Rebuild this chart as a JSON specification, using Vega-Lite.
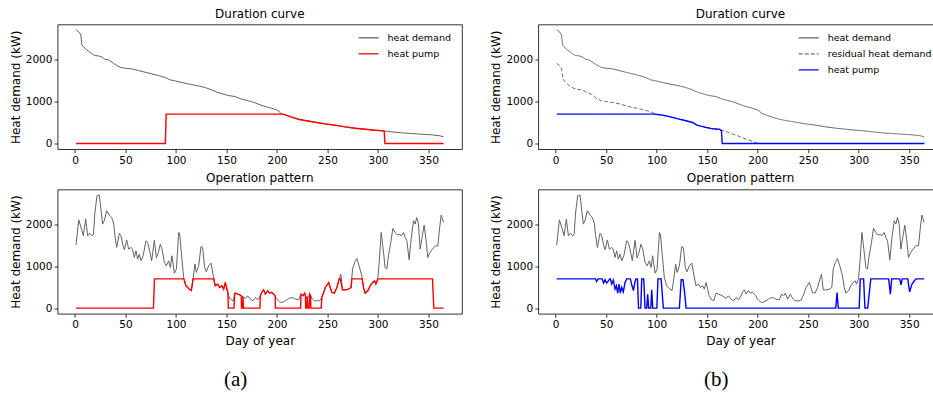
{
"$schema": "https://vega.github.io/schema/vega-lite/v6.json",
"background": "white",
"padding": {"left": 8.6, "top": 6.5, "right": 0, "bottom": 0},
"spacing": 26.7,
"resolve": {"scale": {"color": "independent", "strokeDash": "independent"}},
"config": {
  "font": "DejaVu Sans",
  "view": {"stroke": "#000", "strokeWidth": 0.8},
  "axis": {"grid": false, "domain": false, "tickColor": "#000", "tickWidth": 0.8, "tickSize": 3.5, "labelColor": "#000", "labelFont": "DejaVu Sans", "labelFontSize": 10.5, "titleFont": "DejaVu Sans", "titleFontSize": 12, "titleFontWeight": "normal", "titleColor": "#000", "labelFlush": false, "labelOverlap": false, "format": "d"},
  "axisX": {"labelPadding": 2.5, "titlePadding": 5.5},
  "axisY": {"labelPadding": 2.2, "titlePadding": 3},
  "title": {"font": "DejaVu Sans", "fontSize": 12, "fontWeight": "normal", "color": "#000", "frame": "group", "offset": 4.5, "baseline": "alphabetic", "anchor": "middle"},
  "legend": {"orient": "none", "title": null, "labelFont": "DejaVu Sans", "labelFontSize": 9.5, "labelColor": "#000", "symbolType": "stroke", "symbolSize": 400, "symbolStrokeWidth": 1.3, "labelOffset": 8, "padding": 0, "rowPadding": -7, "offset": 0}
},
"datasets": {
"dur": [
{"s":"heat demand","x":1,"y":2707},{"s":"heat demand","x":4.1,"y":2651},{"s":"heat demand","x":5.8,"y":2587},{"s":"heat demand","x":6.8,"y":2349},{"s":"heat demand","x":10.7,"y":2246},{"s":"heat demand","x":14,"y":2190},{"s":"heat demand","x":17.3,"y":2127},{"s":"heat demand","x":20,"y":2095},{"s":"heat demand","x":23.3,"y":2087},{"s":"heat demand","x":27.2,"y":2056},{"s":"heat demand","x":29.2,"y":2008},{"s":"heat demand","x":33.2,"y":1992},{"s":"heat demand","x":38.1,"y":1913},{"s":"heat demand","x":41.4,"y":1857},{"s":"heat demand","x":45.7,"y":1810},{"s":"heat demand","x":49.7,"y":1794},{"s":"heat demand","x":56.3,"y":1778},{"s":"heat demand","x":62.9,"y":1738},{"s":"heat demand","x":69.5,"y":1698},{"s":"heat demand","x":76.1,"y":1659},{"s":"heat demand","x":82.7,"y":1619},{"s":"heat demand","x":89.3,"y":1572},{"s":"heat demand","x":94.2,"y":1516},{"s":"heat demand","x":99.2,"y":1492},{"s":"heat demand","x":105.8,"y":1452},{"s":"heat demand","x":114,"y":1413},{"s":"heat demand","x":122.3,"y":1373},{"s":"heat demand","x":128.9,"y":1333},{"s":"heat demand","x":135.5,"y":1278},{"s":"heat demand","x":140.4,"y":1222},{"s":"heat demand","x":146,"y":1183},{"s":"heat demand","x":152,"y":1143},{"s":"heat demand","x":158.6,"y":1119},{"s":"heat demand","x":165.2,"y":1056},{"s":"heat demand","x":171.8,"y":1016},{"s":"heat demand","x":176.7,"y":984},{"s":"heat demand","x":181.7,"y":937},{"s":"heat demand","x":188.3,"y":881},{"s":"heat demand","x":194.9,"y":841},{"s":"heat demand","x":199.8,"y":802},{"s":"heat demand","x":202,"y":770},{"s":"heat demand","x":203.5,"y":720},{"s":"heat demand","x":208.1,"y":683},{"s":"heat demand","x":214.7,"y":627},{"s":"heat demand","x":221.3,"y":579},{"s":"heat demand","x":227.9,"y":548},{"s":"heat demand","x":237.8,"y":508},{"s":"heat demand","x":247.7,"y":468},{"s":"heat demand","x":257.6,"y":437},{"s":"heat demand","x":267.5,"y":397},{"s":"heat demand","x":277.4,"y":365},{"s":"heat demand","x":287.3,"y":341},{"s":"heat demand","x":297.2,"y":317},{"s":"heat demand","x":305.4,"y":302},{"s":"heat demand","x":313.7,"y":278},{"s":"heat demand","x":323.6,"y":254},{"s":"heat demand","x":333.5,"y":238},{"s":"heat demand","x":343.4,"y":222},{"s":"heat demand","x":353.3,"y":206},{"s":"heat demand","x":361.6,"y":183},{"s":"heat demand","x":365,"y":155},
{"s":"heat pump A","x":1,"y":0},{"s":"heat pump A","x":89.5,"y":0},{"s":"heat pump A","x":90.3,"y":700},{"s":"heat pump A","x":205.7,"y":700},{"s":"heat pump A","x":208.1,"y":683},{"s":"heat pump A","x":214.7,"y":627},{"s":"heat pump A","x":221.3,"y":579},{"s":"heat pump A","x":227.9,"y":548},{"s":"heat pump A","x":237.8,"y":508},{"s":"heat pump A","x":247.7,"y":468},{"s":"heat pump A","x":257.6,"y":437},{"s":"heat pump A","x":267.5,"y":397},{"s":"heat pump A","x":277.4,"y":365},{"s":"heat pump A","x":287.3,"y":341},{"s":"heat pump A","x":297.2,"y":317},{"s":"heat pump A","x":305.4,"y":302},{"s":"heat pump A","x":306.2,"y":290},{"s":"heat pump A","x":306.9,"y":0},{"s":"heat pump A","x":365,"y":0},
{"s":"residual heat demand","x":1,"y":1913},{"s":"residual heat demand","x":4,"y":1857},{"s":"residual heat demand","x":5.6,"y":1794},{"s":"residual heat demand","x":7.3,"y":1532},{"s":"residual heat demand","x":10.6,"y":1437},{"s":"residual heat demand","x":15.5,"y":1341},{"s":"residual heat demand","x":20.5,"y":1294},{"s":"residual heat demand","x":27.1,"y":1270},{"s":"residual heat demand","x":31,"y":1214},{"s":"residual heat demand","x":35.3,"y":1175},{"s":"residual heat demand","x":40.3,"y":1079},{"s":"residual heat demand","x":45.2,"y":1016},{"s":"residual heat demand","x":50.2,"y":1000},{"s":"residual heat demand","x":56.8,"y":976},{"s":"residual heat demand","x":63.4,"y":944},{"s":"residual heat demand","x":70,"y":897},{"s":"residual heat demand","x":76.6,"y":857},{"s":"residual heat demand","x":83.2,"y":825},{"s":"residual heat demand","x":89.8,"y":786},{"s":"residual heat demand","x":94.7,"y":746},{"s":"residual heat demand","x":99.7,"y":698},{"s":"residual heat demand","x":103,"y":684},{"s":"residual heat demand","x":109.6,"y":659},{"s":"residual heat demand","x":116.2,"y":619},{"s":"residual heat demand","x":122.8,"y":579},{"s":"residual heat demand","x":129.4,"y":540},{"s":"residual heat demand","x":136,"y":500},{"s":"residual heat demand","x":139.3,"y":444},{"s":"residual heat demand","x":142.6,"y":421},{"s":"residual heat demand","x":149.2,"y":381},{"s":"residual heat demand","x":155.8,"y":349},{"s":"residual heat demand","x":162.4,"y":330},{"s":"residual heat demand","x":169,"y":286},{"s":"residual heat demand","x":175.6,"y":222},{"s":"residual heat demand","x":182.2,"y":167},{"s":"residual heat demand","x":188.8,"y":103},{"s":"residual heat demand","x":195.4,"y":48},{"s":"residual heat demand","x":199.3,"y":8},{"s":"residual heat demand","x":201,"y":0},{"s":"residual heat demand","x":365,"y":0},
{"s":"heat pump B","x":1,"y":700},{"s":"heat pump B","x":98,"y":700},{"s":"heat pump B","x":103,"y":685},{"s":"heat pump B","x":109.6,"y":659},{"s":"heat pump B","x":116.2,"y":619},{"s":"heat pump B","x":122.8,"y":579},{"s":"heat pump B","x":129.4,"y":540},{"s":"heat pump B","x":136,"y":500},{"s":"heat pump B","x":139.3,"y":444},{"s":"heat pump B","x":142.6,"y":421},{"s":"heat pump B","x":149.2,"y":381},{"s":"heat pump B","x":155.8,"y":349},{"s":"heat pump B","x":162.4,"y":341},{"s":"heat pump B","x":164.2,"y":302},{"s":"heat pump B","x":164.9,"y":0},{"s":"heat pump B","x":365,"y":0}
],
"op": [
{"s":"d","x":1,"y":1506},{"s":"d","x":3.7,"y":2111},{"s":"d","x":6,"y":1928},{"s":"d","x":8.3,"y":1729},{"s":"d","x":10.6,"y":2127},{"s":"d","x":12.6,"y":1729},{"s":"d","x":14.6,"y":1793},{"s":"d","x":16.9,"y":1729},{"s":"d","x":18.3,"y":1760},{"s":"d","x":19.6,"y":2250},{"s":"d","x":21.8,"y":2685},{"s":"d","x":24.1,"y":2700},{"s":"d","x":27.4,"y":2008},{"s":"d","x":29,"y":2088},{"s":"d","x":31.4,"y":2327},{"s":"d","x":34,"y":2223},{"s":"d","x":36.3,"y":2167},{"s":"d","x":38.3,"y":2032},{"s":"d","x":39.6,"y":1729},{"s":"d","x":41.3,"y":1450},{"s":"d","x":43.9,"y":1790},{"s":"d","x":45.6,"y":1729},{"s":"d","x":47.6,"y":1490},{"s":"d","x":48.9,"y":1394},{"s":"d","x":51.2,"y":1630},{"s":"d","x":53.2,"y":1410},{"s":"d","x":55.5,"y":1450},{"s":"d","x":56.8,"y":1420},{"s":"d","x":58.8,"y":1211},{"s":"d","x":60.4,"y":1370},{"s":"d","x":62.1,"y":1171},{"s":"d","x":63.7,"y":1291},{"s":"d","x":65.4,"y":1131},{"s":"d","x":67.5,"y":1250},{"s":"d","x":70.3,"y":1610},{"s":"d","x":72,"y":1570},{"s":"d","x":74.3,"y":1331},{"s":"d","x":75.9,"y":1131},{"s":"d","x":78.6,"y":1620},{"s":"d","x":80.6,"y":1200},{"s":"d","x":82.5,"y":1331},{"s":"d","x":84.5,"y":1530},{"s":"d","x":86.2,"y":1410},{"s":"d","x":88.5,"y":1092},{"s":"d","x":90.5,"y":1012},{"s":"d","x":92.8,"y":1131},{"s":"d","x":94.4,"y":972},{"s":"d","x":96,"y":1251},{"s":"d","x":98.4,"y":837},{"s":"d","x":100.4,"y":932},{"s":"d","x":102.7,"y":1809},{"s":"d","x":103.7,"y":1769},{"s":"d","x":105.6,"y":1251},{"s":"d","x":107.6,"y":733},{"s":"d","x":109.9,"y":534},{"s":"d","x":113.2,"y":454},{"s":"d","x":115.2,"y":420},{"s":"d","x":116.5,"y":620},{"s":"d","x":118.8,"y":1052},{"s":"d","x":120.2,"y":853},{"s":"d","x":122.5,"y":1012},{"s":"d","x":124.8,"y":1474},{"s":"d","x":126.4,"y":1450},{"s":"d","x":128.4,"y":972},{"s":"d","x":130,"y":869},{"s":"d","x":132.4,"y":1012},{"s":"d","x":134.7,"y":1076},{"s":"d","x":136.7,"y":813},{"s":"d","x":138.9,"y":534},{"s":"d","x":141.3,"y":574},{"s":"d","x":143.3,"y":494},{"s":"d","x":145.6,"y":534},{"s":"d","x":147.2,"y":454},{"s":"d","x":148.9,"y":613},{"s":"d","x":150.5,"y":450},{"s":"d","x":152,"y":300},{"s":"d","x":153.8,"y":215},{"s":"d","x":156.5,"y":175},{"s":"d","x":158.8,"y":359},{"s":"d","x":161.4,"y":335},{"s":"d","x":163.7,"y":311},{"s":"d","x":166.4,"y":271},{"s":"d","x":168.7,"y":231},{"s":"d","x":171,"y":295},{"s":"d","x":173.7,"y":215},{"s":"d","x":176.3,"y":175},{"s":"d","x":178.6,"y":255},{"s":"d","x":181,"y":199},{"s":"d","x":183.5,"y":295},{"s":"d","x":185.2,"y":390},{"s":"d","x":186.8,"y":438},{"s":"d","x":188.5,"y":335},{"s":"d","x":190.8,"y":414},{"s":"d","x":192.8,"y":359},{"s":"d","x":194.8,"y":380},{"s":"d","x":196.7,"y":330},{"s":"d","x":198.2,"y":295},{"s":"d","x":199.5,"y":220},{"s":"d","x":202.7,"y":151},{"s":"d","x":205,"y":135},{"s":"d","x":208.3,"y":175},{"s":"d","x":211.6,"y":231},{"s":"d","x":214.9,"y":255},{"s":"d","x":218.2,"y":215},{"s":"d","x":221.5,"y":199},{"s":"d","x":223.8,"y":335},{"s":"d","x":225.8,"y":295},{"s":"d","x":227.4,"y":359},{"s":"d","x":229.7,"y":215},{"s":"d","x":232.4,"y":335},{"s":"d","x":234.7,"y":231},{"s":"d","x":237,"y":175},{"s":"d","x":240.3,"y":175},{"s":"d","x":243,"y":191},{"s":"d","x":245.6,"y":335},{"s":"d","x":247.9,"y":494},{"s":"d","x":251.2,"y":613},{"s":"d","x":254.3,"y":374},{"s":"d","x":256.9,"y":359},{"s":"d","x":259.3,"y":494},{"s":"d","x":261.6,"y":693},{"s":"d","x":263.2,"y":813},{"s":"d","x":264.9,"y":438},{"s":"d","x":267.5,"y":438},{"s":"d","x":270.8,"y":454},{"s":"d","x":273.4,"y":494},{"s":"d","x":274.8,"y":932},{"s":"d","x":277,"y":1100},{"s":"d","x":279,"y":1187},{"s":"d","x":281.3,"y":1012},{"s":"d","x":284,"y":773},{"s":"d","x":285.7,"y":494},{"s":"d","x":287.3,"y":359},{"s":"d","x":289.9,"y":414},{"s":"d","x":292.3,"y":534},{"s":"d","x":294.6,"y":613},{"s":"d","x":296.6,"y":653},{"s":"d","x":297.9,"y":574},{"s":"d","x":299.8,"y":693},{"s":"d","x":301.2,"y":1092},{"s":"d","x":303.2,"y":1809},{"s":"d","x":305.5,"y":1331},{"s":"d","x":307.1,"y":972},{"s":"d","x":308.7,"y":932},{"s":"d","x":310.4,"y":1251},{"s":"d","x":312.7,"y":1570},{"s":"d","x":314.7,"y":1904},{"s":"d","x":317,"y":1809},{"s":"d","x":319.3,"y":1745},{"s":"d","x":321,"y":1769},{"s":"d","x":322.9,"y":1729},{"s":"d","x":325.3,"y":1809},{"s":"d","x":326.9,"y":1689},{"s":"d","x":328.6,"y":1610},{"s":"d","x":330.9,"y":1155},{"s":"d","x":332.8,"y":1650},{"s":"d","x":335.2,"y":2088},{"s":"d","x":336.8,"y":2008},{"s":"d","x":338.4,"y":2167},{"s":"d","x":340.1,"y":2008},{"s":"d","x":341.8,"y":1410},{"s":"d","x":343.4,"y":1650},{"s":"d","x":345.7,"y":1984},{"s":"d","x":347.7,"y":1610},{"s":"d","x":349.3,"y":1211},{"s":"d","x":351.6,"y":1331},{"s":"d","x":354,"y":1410},{"s":"d","x":356.6,"y":1490},{"s":"d","x":359.3,"y":1490},{"s":"d","x":360.9,"y":1888},{"s":"d","x":362.6,"y":2223},{"s":"d","x":364.9,"y":2048},
{"s":"a","x":1,"y":0},{"s":"a","x":77.7,"y":0},{"s":"a","x":78.7,"y":700},{"s":"a","x":107.7,"y":700},{"s":"a","x":109.9,"y":534},{"s":"a","x":113.2,"y":454},{"s":"a","x":115.2,"y":420},{"s":"a","x":116.5,"y":620},{"s":"a","x":116.8,"y":700},{"s":"a","x":137.3,"y":700},{"s":"a","x":138.9,"y":534},{"s":"a","x":141.3,"y":574},{"s":"a","x":143.3,"y":494},{"s":"a","x":145.6,"y":534},{"s":"a","x":147.2,"y":454},{"s":"a","x":148.9,"y":613},{"s":"a","x":150.5,"y":450},{"s":"a","x":151.5,"y":350},{"s":"a","x":151.8,"y":0},{"s":"a","x":157.5,"y":0},{"s":"a","x":158,"y":340},{"s":"a","x":158.8,"y":359},{"s":"a","x":161.4,"y":335},{"s":"a","x":163.7,"y":311},{"s":"a","x":164.6,"y":295},{"s":"a","x":164.9,"y":0},{"s":"a","x":165.9,"y":0},{"s":"a","x":166.3,"y":275},{"s":"a","x":166.9,"y":0},{"s":"a","x":183.2,"y":0},{"s":"a","x":183.5,"y":295},{"s":"a","x":185.2,"y":390},{"s":"a","x":186.8,"y":438},{"s":"a","x":188.5,"y":335},{"s":"a","x":190.8,"y":414},{"s":"a","x":192.8,"y":359},{"s":"a","x":194.8,"y":380},{"s":"a","x":196.7,"y":330},{"s":"a","x":198.2,"y":295},{"s":"a","x":198.5,"y":0},{"s":"a","x":223.4,"y":0},{"s":"a","x":223.8,"y":335},{"s":"a","x":225.8,"y":295},{"s":"a","x":227.4,"y":359},{"s":"a","x":228.2,"y":300},{"s":"a","x":228.5,"y":0},{"s":"a","x":229.6,"y":0},{"s":"a","x":230,"y":280},{"s":"a","x":230.6,"y":0},{"s":"a","x":231.9,"y":0},{"s":"a","x":232.4,"y":335},{"s":"a","x":233.3,"y":300},{"s":"a","x":233.6,"y":0},{"s":"a","x":243.8,"y":0},{"s":"a","x":244.5,"y":270},{"s":"a","x":245.6,"y":335},{"s":"a","x":247.9,"y":494},{"s":"a","x":251.2,"y":613},{"s":"a","x":254.3,"y":374},{"s":"a","x":256.9,"y":359},{"s":"a","x":259.3,"y":494},{"s":"a","x":261.6,"y":693},{"s":"a","x":261.8,"y":700},{"s":"a","x":262.8,"y":700},{"s":"a","x":264.9,"y":438},{"s":"a","x":267.5,"y":438},{"s":"a","x":270.8,"y":454},{"s":"a","x":273.4,"y":494},{"s":"a","x":274.1,"y":700},{"s":"a","x":284.4,"y":700},{"s":"a","x":285.7,"y":494},{"s":"a","x":287.3,"y":359},{"s":"a","x":289.9,"y":414},{"s":"a","x":292.3,"y":534},{"s":"a","x":294.6,"y":613},{"s":"a","x":296.6,"y":653},{"s":"a","x":297.9,"y":574},{"s":"a","x":299.8,"y":693},{"s":"a","x":300.1,"y":700},{"s":"a","x":354,"y":700},{"s":"a","x":355.3,"y":0},{"s":"a","x":365,"y":0},
{"s":"b","x":1,"y":700},{"s":"b","x":39.5,"y":700},{"s":"b","x":40.6,"y":637},{"s":"b","x":42,"y":700},{"s":"b","x":46,"y":700},{"s":"b","x":47.5,"y":600},{"s":"b","x":48.9,"y":680},{"s":"b","x":50.5,"y":600},{"s":"b","x":52.2,"y":653},{"s":"b","x":53.5,"y":700},{"s":"b","x":54.2,"y":700},{"s":"b","x":55.5,"y":575},{"s":"b","x":57.1,"y":670},{"s":"b","x":58.8,"y":455},{"s":"b","x":60.1,"y":535},{"s":"b","x":61.4,"y":360},{"s":"b","x":62.7,"y":575},{"s":"b","x":64,"y":360},{"s":"b","x":65.4,"y":495},{"s":"b","x":67,"y":390},{"s":"b","x":68.7,"y":615},{"s":"b","x":70.3,"y":700},{"s":"b","x":74,"y":700},{"s":"b","x":75.5,"y":540},{"s":"b","x":77,"y":420},{"s":"b","x":78.5,"y":620},{"s":"b","x":79.5,"y":700},{"s":"b","x":81,"y":700},{"s":"b","x":82,"y":0},{"s":"b","x":84.3,"y":0},{"s":"b","x":85.2,"y":700},{"s":"b","x":87.2,"y":700},{"s":"b","x":88.5,"y":0},{"s":"b","x":90.2,"y":0},{"s":"b","x":91.1,"y":330},{"s":"b","x":92.1,"y":0},{"s":"b","x":94.2,"y":0},{"s":"b","x":95.1,"y":440},{"s":"b","x":96.1,"y":0},{"s":"b","x":100.2,"y":0},{"s":"b","x":101.3,"y":700},{"s":"b","x":104.4,"y":700},{"s":"b","x":106.6,"y":0},{"s":"b","x":122.5,"y":0},{"s":"b","x":124.3,"y":677},{"s":"b","x":126.1,"y":677},{"s":"b","x":128,"y":300},{"s":"b","x":129.1,"y":0},{"s":"b","x":277.3,"y":0},{"s":"b","x":278.6,"y":374},{"s":"b","x":279.8,"y":0},{"s":"b","x":300.5,"y":0},{"s":"b","x":301.6,"y":700},{"s":"b","x":304.9,"y":700},{"s":"b","x":306.2,"y":0},{"s":"b","x":308.9,"y":0},{"s":"b","x":309.9,"y":215},{"s":"b","x":312,"y":700},{"s":"b","x":329.7,"y":700},{"s":"b","x":331.4,"y":335},{"s":"b","x":332.7,"y":700},{"s":"b","x":340.6,"y":700},{"s":"b","x":341.9,"y":558},{"s":"b","x":343.1,"y":700},{"s":"b","x":348.6,"y":700},{"s":"b","x":350.5,"y":390},{"s":"b","x":352.8,"y":575},{"s":"b","x":355.1,"y":653},{"s":"b","x":357,"y":700},{"s":"b","x":364.9,"y":700}
]
},
"hconcat": [
{
  "bounds": "flush",
  "spacing": 40,
  "resolve": {"scale": {"color": "independent", "strokeDash": "independent"}},
  "title": {"text": "(a)", "orient": "bottom", "frame": "bounds", "anchor": "middle", "font": "Liberation Serif", "fontSize": 21, "offset": 39, "baseline": "alphabetic"},
  "vconcat": [
  {
    "width": 404.4, "height": 124.7,
    "title": {"text": "Duration curve", "offset": 3.8},
    "data": {"name": "dur"},
    "encoding": {
      "x": {"field": "x", "type": "quantitative", "scale": {"domain": [-17.2, 383.2], "nice": false, "zero": false}, "axis": {"values": [0,50,100,150,200,250,300,350], "title": null}},
      "y": {"field": "y", "type": "quantitative", "scale": {"domain": [-135, 2835], "nice": false, "zero": false}, "axis": {"values": [0,1000,2000], "title": "Heat demand (kW)"}},
      "color": {"field": "s", "type": "nominal", "scale": {"domain": ["heat demand", "heat pump A"], "range": ["#626262", "#ff0000"]}, "legend": {"legendX": 300, "legendY": 2.3, "labelExpr": "datum.label == 'heat pump A' ? 'heat pump' : datum.label"}}
    },
    "layer": [
      {"transform": [{"filter": "datum.s === 'heat demand'"}], "mark": {"type": "line", "strokeWidth": 1}},
      {"transform": [{"filter": "datum.s === 'heat pump A'"}], "mark": {"type": "line", "strokeWidth": 1.4}}
    ]
  },
  {
    "width": 404.4, "height": 124.3,
    "title": {"text": "Operation pattern", "offset": 4.5},
    "data": {"name": "op"},
    "encoding": {
      "x": {"field": "x", "type": "quantitative", "scale": {"domain": [-17.2, 383.2], "nice": false, "zero": false}, "axis": {"values": [0,50,100,150,200,250,300,350], "title": "Day of year"}},
      "y": {"field": "y", "type": "quantitative", "scale": {"domain": [-135, 2835], "nice": false, "zero": false}, "axis": {"values": [0,1000,2000], "title": "Heat demand (kW)"}},
      "color": {"field": "s", "type": "nominal", "scale": {"domain": ["d", "a"], "range": ["#626262", "#ff0000"]}, "legend": null}
    },
    "layer": [
      {"transform": [{"filter": "datum.s === 'd'"}], "mark": {"type": "line", "strokeWidth": 1}},
      {"transform": [{"filter": "datum.s === 'a'"}], "mark": {"type": "line", "strokeWidth": 1.4}}
    ]
  }
  ]
},
{
  "bounds": "flush",
  "spacing": 40,
  "resolve": {"scale": {"color": "independent", "strokeDash": "independent"}},
  "title": {"text": "(b)", "orient": "bottom", "frame": "bounds", "anchor": "middle", "font": "Liberation Serif", "fontSize": 21, "offset": 39, "baseline": "alphabetic"},
  "vconcat": [
  {
    "width": 404.4, "height": 124.7,
    "title": {"text": "Duration curve", "offset": 3.8},
    "data": {"name": "dur"},
    "encoding": {
      "x": {"field": "x", "type": "quantitative", "scale": {"domain": [-17.2, 383.2], "nice": false, "zero": false}, "axis": {"values": [0,50,100,150,200,250,300,350], "title": null}},
      "y": {"field": "y", "type": "quantitative", "scale": {"domain": [-135, 2835], "nice": false, "zero": false}, "axis": {"values": [0,1000,2000], "title": "Heat demand (kW)"}},
      "color": {"field": "s", "type": "nominal", "scale": {"domain": ["heat demand", "residual heat demand", "heat pump B"], "range": ["#626262", "#6e6e6e", "#0000ff"]}, "legend": {"legendX": 259.4, "legendY": 2.3, "labelExpr": "datum.label == 'heat pump B' ? 'heat pump' : datum.label"}},
      "strokeDash": {"field": "s", "type": "nominal", "scale": {"domain": ["heat demand", "residual heat demand", "heat pump B"], "range": [[1,0],[4,2],[1,0]]}, "legend": {"legendX": 259.4, "legendY": 2.3, "labelExpr": "datum.label == 'heat pump B' ? 'heat pump' : datum.label"}}
    },
    "layer": [
      {"transform": [{"filter": "datum.s === 'heat demand'"}], "mark": {"type": "line", "strokeWidth": 1}},
      {"transform": [{"filter": "datum.s === 'residual heat demand'"}], "mark": {"type": "line", "strokeWidth": 1}},
      {"transform": [{"filter": "datum.s === 'heat pump B'"}], "mark": {"type": "line", "strokeWidth": 1.4}}
    ]
  },
  {
    "width": 404.4, "height": 124.3,
    "title": {"text": "Operation pattern", "offset": 4.5},
    "data": {"name": "op"},
    "encoding": {
      "x": {"field": "x", "type": "quantitative", "scale": {"domain": [-17.2, 383.2], "nice": false, "zero": false}, "axis": {"values": [0,50,100,150,200,250,300,350], "title": "Day of year"}},
      "y": {"field": "y", "type": "quantitative", "scale": {"domain": [-135, 2835], "nice": false, "zero": false}, "axis": {"values": [0,1000,2000], "title": "Heat demand (kW)"}},
      "color": {"field": "s", "type": "nominal", "scale": {"domain": ["d", "b"], "range": ["#626262", "#0000ff"]}, "legend": null}
    },
    "layer": [
      {"transform": [{"filter": "datum.s === 'd'"}], "mark": {"type": "line", "strokeWidth": 1}},
      {"transform": [{"filter": "datum.s === 'b'"}], "mark": {"type": "line", "strokeWidth": 1.4}}
    ]
  }
  ]
}
]
}
